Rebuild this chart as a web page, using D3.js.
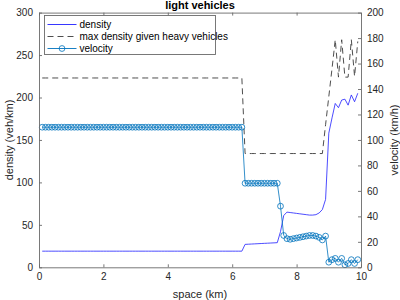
<!DOCTYPE html>
<html>
<head>
<meta charset="utf-8">
<script src="https://cdn.jsdelivr.net/npm/d3@7"></script>
<style>
  body { margin: 0; background: #fff; }
  svg { display: block; font-family: "Liberation Sans", Arial, sans-serif; }
</style>
</head>
<body>
<div id="chart"></div>
<script>
// sampling grid along the road (km), one cell every 0.1 km
let space = d3.range(1, 100).map(i => i / 10)

// light vehicle density (veh/km)
let density = [
  19, 19, 19, 19, 19, 19, 19, 19, 19, 19, 19, 19, 19, 19, 19, 19, 19, 19, 19, 19,
  19, 19, 19, 19, 19, 19, 19, 19, 19, 19, 19, 19, 19, 19, 19, 19, 19, 19, 19, 19,
  19, 19, 19, 19, 19, 19, 19, 19, 19, 19, 19, 19, 19, 19, 19, 19, 19, 19, 19, 19,
  19, 19, 19,
  27, 27.2, 27.4, 27.6, 27.8, 28, 28.2, 28.4, 28.6, 28.8, 29,
  42, 61, 65, 64.5, 64, 63.5, 63, 62.5, 62, 61.5, 61.5, 62, 64, 68, 80,
  158, 176, 193, 188, 197, 198, 191, 203, 195, 205
]

// max density given heavy vehicles (veh/km)
let maxDensity = [
  223, 223, 223, 223, 223, 223, 223, 223, 223, 223, 223, 223, 223, 223, 223, 223, 223, 223, 223, 223,
  223, 223, 223, 223, 223, 223, 223, 223, 223, 223, 223, 223, 223, 223, 223, 223, 223, 223, 223, 223,
  223, 223, 223, 223, 223, 223, 223, 223, 223, 223, 223, 223, 223, 223, 223, 223, 223, 223, 223, 223,
  223, 223, 223,
  134, 134, 134, 134, 134, 134, 134, 134, 134, 134, 134, 134, 134, 134, 134, 134, 134, 134, 134, 134,
  134, 134, 134, 134, 134,
  168, 201, 234, 268, 224, 268, 224, 224, 268, 225, 266
]

// light vehicle velocity (km/h)
let velocity = [
  110, 110, 110, 110, 110, 110, 110, 110, 110, 110, 110, 110, 110, 110, 110, 110, 110, 110, 110, 110,
  110, 110, 110, 110, 110, 110, 110, 110, 110, 110, 110, 110, 110, 110, 110, 110, 110, 110, 110, 110,
  110, 110, 110, 110, 110, 110, 110, 110, 110, 110, 110, 110, 110, 110, 110, 110, 110, 110, 110, 110,
  110, 110, 110,
  66, 66, 66, 66, 66, 66, 66, 66, 66, 66, 66,
  48, 25,
  22.5, 22, 22.5, 23, 23.5, 24, 24.5, 25, 25, 24.5, 23.5, 21.5,
  24.5,
  4, 6, 7, 4, 7, 2, 3, 6, 3, 6
]

let xTicks = [0, 2, 4, 6, 8, 10]
let leftTicks = [0, 50, 100, 150, 200, 250, 300]
let rightTicks = [0, 20, 40, 60, 80, 100, 120, 140, 160, 180, 200]

let legendLabels = ['density', 'max density given heavy vehicles', 'velocity']

// plot area
let plotLeft = 39, plotRight = 361, plotTop = 12.6, plotBottom = 267.3
let axisColor = '#262626'

let svg = d3.select('#chart')
  .append('svg')
  .attr('width', 400)
  .attr('height', 300)

let x = d3.scaleLinear().domain([0, 10]).range([plotLeft, plotRight])
let yLeft = d3.scaleLinear().domain([0, 300]).range([plotBottom, plotTop])
let yRight = d3.scaleLinear().domain([0, 200]).range([plotBottom, plotTop])

// data lines
let densityLine = d3.line().x((d, i) => x(space[i])).y(d => yLeft(d))
let velocityLine = d3.line().x((d, i) => x(space[i])).y(d => yRight(d))

svg.append('path')
  .attr('d', densityLine(maxDensity))
  .attr('fill', 'none')
  .attr('stroke', '#3a3a3a')
  .attr('stroke-width', 0.9)
  .attr('stroke-dasharray', '6,4')

svg.append('path')
  .attr('d', densityLine(density))
  .attr('fill', 'none')
  .attr('stroke', '#2020ff')
  .attr('stroke-width', 0.8)

svg.append('path')
  .attr('d', velocityLine(velocity))
  .attr('fill', 'none')
  .attr('stroke', '#0072bd')
  .attr('stroke-width', 0.8)

svg.append('g')
  .selectAll('circle')
  .data(velocity)
  .join('circle')
  .attr('cx', (d, i) => x(space[i]))
  .attr('cy', d => yRight(d))
  .attr('r', 2.9)
  .attr('fill', 'none')
  .attr('stroke', '#0072bd')
  .attr('stroke-width', 0.8)

// axes - ticks point inwards like matlab
let tickStyle = g => {
  g.select('.domain').attr('stroke', '#6a6a6a').attr('stroke-width', 0.9)
  g.selectAll('.tick line').attr('stroke', '#6a6a6a').attr('stroke-width', 0.9)
  g.selectAll('.tick text')
    .attr('fill', axisColor)
    .style('font-size', '10px')
}

svg.append('g')
  .attr('transform', `translate(0,${plotBottom})`)
  .call(d3.axisBottom(x).tickValues(xTicks).tickSizeInner(-3).tickSizeOuter(0).tickPadding(6))
  .call(tickStyle)

svg.append('g')
  .attr('transform', `translate(0,${plotTop})`)
  .call(d3.axisTop(x).tickValues(xTicks).tickSizeInner(-3).tickSizeOuter(0).tickFormat(''))
  .call(tickStyle)

svg.append('g')
  .attr('transform', `translate(${plotLeft},0)`)
  .call(d3.axisLeft(yLeft).tickValues(leftTicks).tickSizeInner(-3).tickSizeOuter(0).tickPadding(6))
  .call(tickStyle)

svg.append('g')
  .attr('transform', `translate(${plotRight},0)`)
  .call(d3.axisRight(yRight).tickValues(rightTicks).tickSizeInner(-3).tickSizeOuter(0).tickPadding(6))
  .call(tickStyle)

// titles and labels
svg.append('text')
  .attr('x', 200)
  .attr('y', 9)
  .attr('text-anchor', 'middle')
  .style('font-size', '11px')
  .style('font-weight', 'bold')
  .attr('fill', '#000')
  .text('light vehicles')

svg.append('text')
  .attr('x', 200)
  .attr('y', 298)
  .attr('text-anchor', 'middle')
  .style('font-size', '11px')
  .attr('fill', axisColor)
  .text('space (km)')

svg.append('text')
  .attr('transform', `translate(13,${(plotTop + plotBottom) / 2}) rotate(-90)`)
  .attr('text-anchor', 'middle')
  .style('font-size', '11px')
  .attr('fill', axisColor)
  .text('density (veh/km)')

svg.append('text')
  .attr('transform', `translate(398,${(plotTop + plotBottom) / 2}) rotate(-90)`)
  .attr('text-anchor', 'middle')
  .style('font-size', '11px')
  .attr('fill', axisColor)
  .text('velocity (km/h)')

// legend box
let legend = svg.append('g').attr('transform', 'translate(44.5,15.5)')

legend.append('rect')
  .attr('width', 171)
  .attr('height', 39)
  .attr('fill', '#fff')
  .attr('stroke', '#6a6a6a')
  .attr('stroke-width', 0.9)

let rows = legend.selectAll('g.row')
  .data(legendLabels)
  .join('g')
  .attr('class', 'row')
  .attr('transform', (d, i) => `translate(0,${9 + i * 12})`)

rows.append('line')
  .attr('x1', 3)
  .attr('x2', 32)
  .attr('stroke', (d, i) => ['#2020ff', '#3a3a3a', '#0072bd'][i])
  .attr('stroke-width', 0.9)
  .attr('stroke-dasharray', (d, i) => i === 1 ? '6,4' : null)

rows.filter((d, i) => i === 2)
  .append('circle')
  .attr('cx', 17.5)
  .attr('r', 2.9)
  .attr('fill', 'none')
  .attr('stroke', '#0072bd')
  .attr('stroke-width', 0.8)

rows.append('text')
  .attr('x', 35)
  .attr('y', 3.5)
  .style('font-size', '10px')
  .attr('fill', '#000')
  .text(d => d)
</script>
</body>
</html>
